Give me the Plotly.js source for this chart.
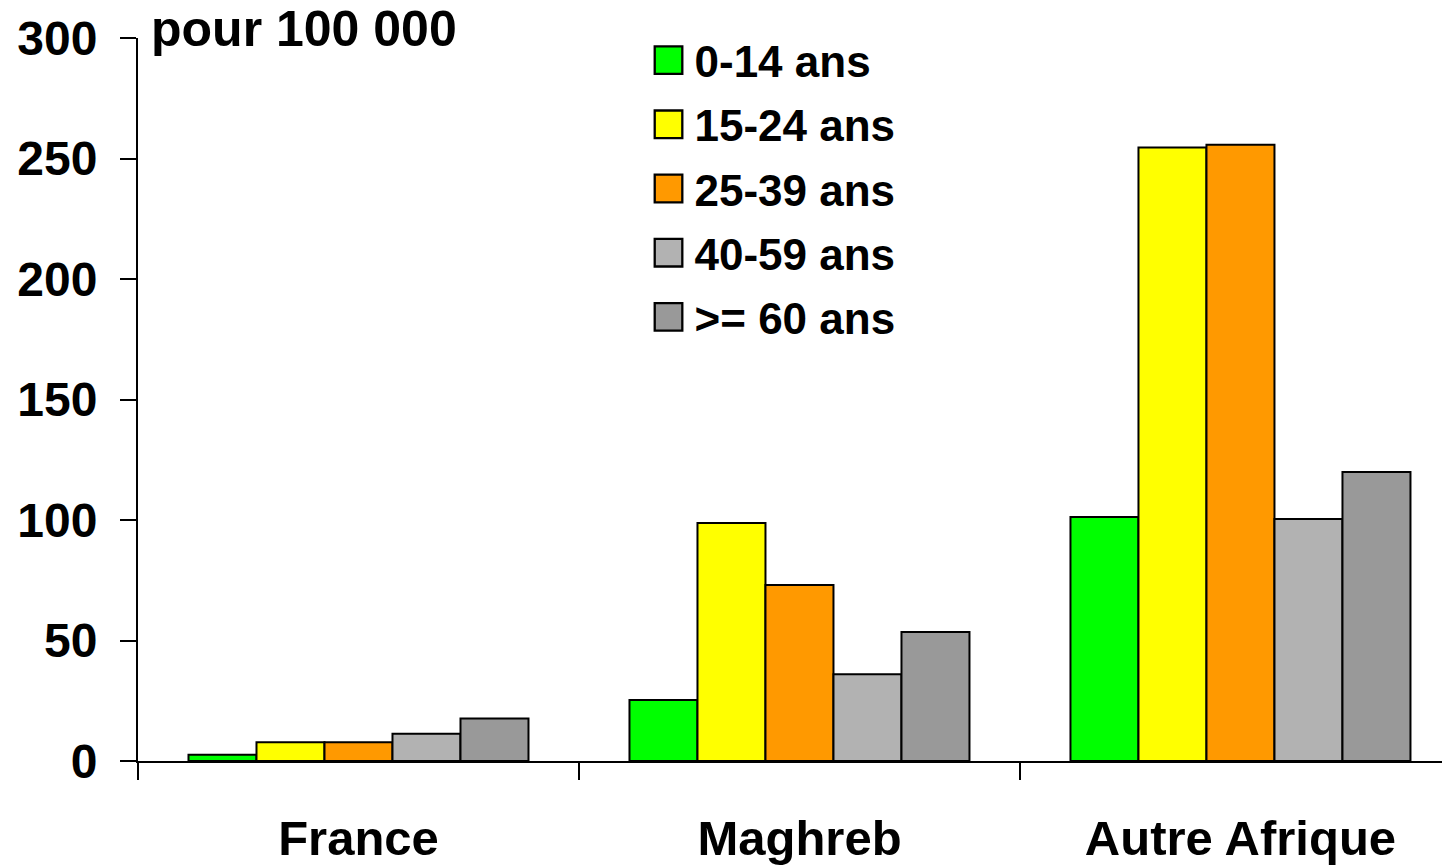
<!DOCTYPE html>
<html>
<head>
<meta charset="utf-8">
<script src="https://cdn.plot.ly/plotly-3.0.1.min.js"></script>
<style>html,body{margin:0;padding:0;background:#fff;overflow:hidden;}</style>
</head>
<body>
<div id="chart" style="width:1442px;height:865px;"></div>
<script>
const categories = ["France", "Maghreb", "Autre Afrique"];
const seriesNames = ["0-14 ans", "15-24 ans", "25-39 ans", "40-59 ans", ">= 60 ans"];
const age0_14 = [2.6, 25.3, 101.2];
const age15_24 = [7.8, 98.8, 254.6];
const age25_39 = [7.8, 73, 255.7];
const age40_59 = [11.3, 36, 100.4];
const age60plus = [17.6, 53.5, 119.9];
const seriesValues = [age0_14, age15_24, age25_39, age40_59, age60plus];
const seriesColors = ["#00FF00", "#FFFF00", "#FF9900", "#B2B2B2", "#999999"];
const yTickValues = [0, 50, 100, 150, 200, 250, 300];
const unitLabel = "pour 100 000";

const FONT = "Liberation Sans, Arial, sans-serif";

const traces = seriesNames.map((name, i) => ({
  type: "bar",
  name: name,
  x: categories,
  y: seriesValues[i],
  legendgroup: "g" + i,
  marker: {color: seriesColors[i], line: {color: "#000", width: 2}},
  hoverinfo: "x+y+name"
}));

const layout = {
  width: 1442,
  height: 865,
  margin: {l: 138, r: 0, t: 38, b: 104},
  paper_bgcolor: "#fff",
  plot_bgcolor: "#fff",
  barmode: "group",
  bargap: 0.229,
  bargroupgap: 0,
  showlegend: true,
  legend: {
    x: 0.3961, y: 1.018, xanchor: "left", yanchor: "top",
    xref: "paper", yref: "paper",
    bgcolor: "rgba(0,0,0,0)", borderwidth: 0,
    traceorder: "grouped", tracegroupgap: 4,
    font: {family: FONT, size: 44, color: "#000", weight: "bold"}
  },
  xaxis: {
    type: "category",
    range: [-0.5, 2.457],
    tickson: "boundaries",
    ticks: "outside", ticklen: 17, tickwidth: 2, tickcolor: "#000",
    showline: true, linecolor: "#000", linewidth: 2,
    showgrid: false, zeroline: false,
    ticklabelstandoff: 33,
    tickfont: {family: FONT, size: 49, color: "#000", weight: "bold"}
  },
  yaxis: {
    range: [0, 300],
    tickvals: yTickValues,
    ticks: "outside", ticklen: 16, tickwidth: 2, tickcolor: "#000",
    showline: true, linecolor: "#000", linewidth: 2,
    showgrid: false, zeroline: false,
    ticklabelstandoff: 13,
    tickfont: {family: FONT, size: 48, color: "#000", weight: "bold"}
  },
  annotations: [{
    text: unitLabel,
    xref: "paper", yref: "paper",
    x: 0.0085, y: 1.012, xanchor: "left", yanchor: "middle",
    showarrow: false,
    font: {family: FONT, size: 50, color: "#000", weight: "bold"}
  }]
};

Plotly.newPlot("chart", traces, layout, {displayModeBar: false, staticPlot: true}).then(() => {
  document.querySelectorAll(".legend .legendpoints path").forEach(p => {
    p.setAttribute("transform", "translate(14,0) scale(2.3)");
    p.style.strokeWidth = "1px";
  });
  document.querySelectorAll(".legend [clip-path]").forEach(el => el.removeAttribute("clip-path"));
});
</script>
</body>
</html>
